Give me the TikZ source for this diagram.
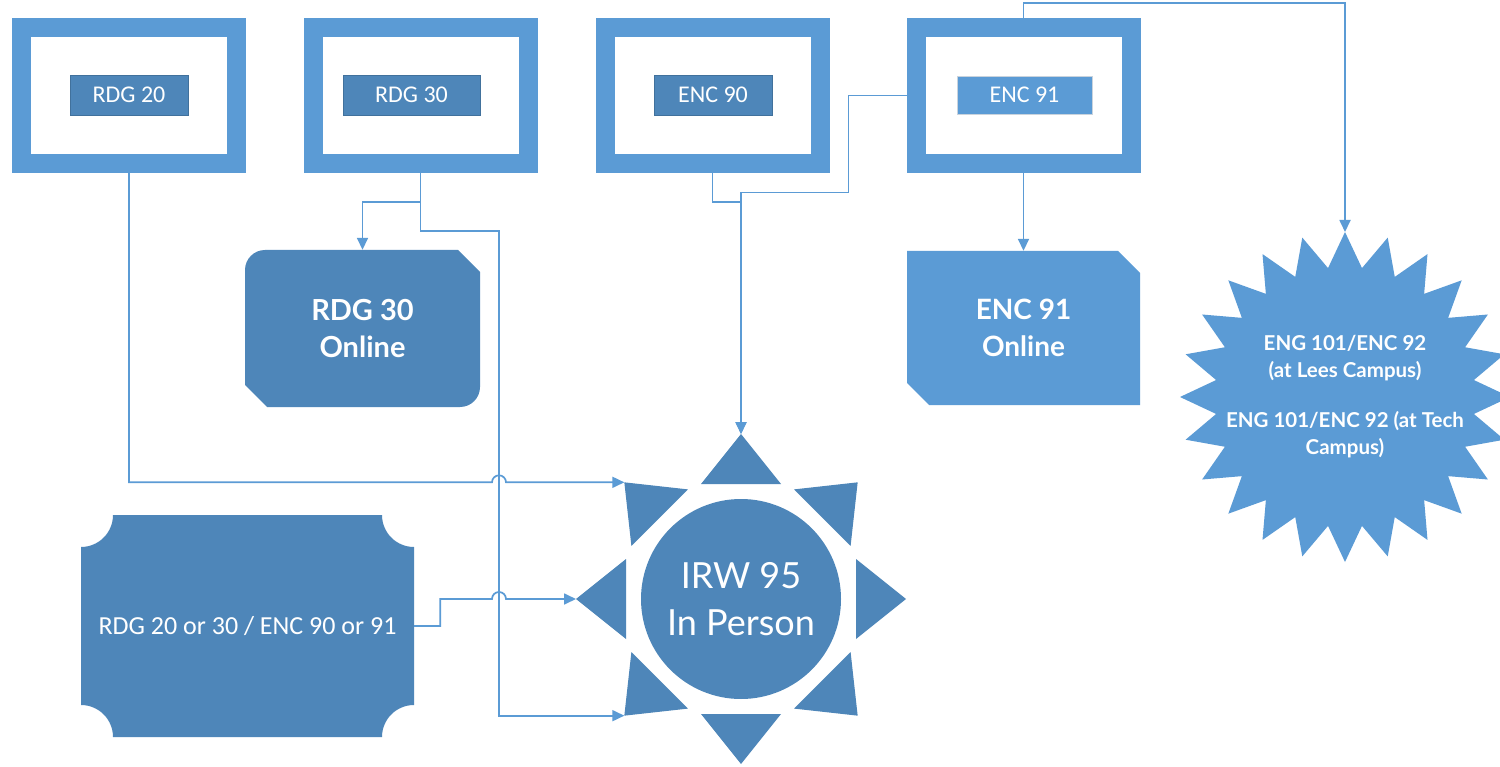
\documentclass[tikz,border=0pt]{standalone}
\usepackage{fontspec}
\setmainfont{Carlito}
\newfontfamily\twfont{Lato}
\usetikzlibrary{arrows.meta,calc}
\definecolor{lightb}{HTML}{5B9BD5}
\definecolor{darkb}{HTML}{4E86B9}
\definecolor{edgeb}{HTML}{41719C}
\definecolor{edgeg}{HTML}{C9D3DD}
\begin{document}
\begin{tikzpicture}[x=1pt,y=-1pt,
  frame/.style={draw=lightb, line width=19pt, fill=white, minimum width=215pt,
    minimum height=136pt, inner sep=0pt, outer sep=9.5pt},
  lab/.style={fill=darkb, draw=edgeb, line width=0.6pt, text=white, minimum width=118pt,
    minimum height=40pt, inner sep=0pt, font=\fontsize{24}{28}\selectfont},
  lablight/.style={lab, fill=lightb, draw=edgeg, minimum width=135pt, minimum height=38pt},
  bigtext/.style={text=white, align=center, inner sep=0pt},
  conn/.style={draw=lightb, line width=1.7pt},
  arr/.style={conn, -{Triangle[length=12pt,width=11pt]}}]
\useasboundingbox (0,0) rectangle (1500,767);
\fill[white] (0,0) rectangle (1500,767);
\clip (0,0) rectangle (1500,767);

% ---------- top frames ----------
\node[frame] (rdg20) at (129,95.5) {};
\node[frame] (rdg30) at (420.5,95.5) {};
\node[frame] (enc90) at (712.5,95.5) {};
\node[frame] (enc91) at (1023.5,95.5) {};
\node[lab] (rdg20l) at (129,95) {RDG 20};
\node[lab, minimum width=137pt] (rdg30l) at (411.5,95) {RDG 30};
\node[lab] (enc90l) at (713,95) {ENC 90};
\node[lablight] (enc91l) at (1024.5,95) {ENC 91};

% ---------- RDG 30 Online ----------
\fill[darkb] (245,270) -- (245,385) -- (267,407) -- (460,407)
  arc[start angle=90, end angle=0, radius=20] -- (480,272) -- (458,250) -- (265,250)
  arc[start angle=270, end angle=180, radius=20] -- cycle;
\node[bigtext, minimum width=235pt, minimum height=157pt,
  font=\twfont\bfseries\fontsize{29}{37}\selectfont] (rdg30on) at (362.5,328.5) {RDG 30\\Online};

% ---------- ENC 91 Online ----------
\fill[lightb] (907,251) -- (1118,251) -- (1140,273) -- (1140,405) -- (929,405) -- (907,383) -- cycle;
\node[bigtext, minimum width=233pt, minimum height=154pt,
  font=\twfont\bfseries\fontsize{28}{37}\selectfont] (enc91on) at (1023.5,328) {ENC 91\\Online};

% ---------- bottom-left plaque ----------
\fill[darkb] (113,515) -- (382,515) arc[start angle=180, end angle=90, radius=32]
  -- (414,705) arc[start angle=270, end angle=180, radius=32]
  -- (113,737) arc[start angle=0, end angle=-90, radius=32]
  -- (81,547) arc[start angle=90, end angle=0, radius=32] -- cycle;
\node[bigtext, minimum width=333pt, minimum height=222pt,
  font=\fontsize{26}{30}\selectfont] (plq) at (247.5,626) {RDG 20 or 30 / ENC 90 or 91};

% ---------- sun ----------
\coordinate (sunc) at (741,599);
\foreach \a in {0,45,...,315} {
  \fill[darkb] ($(sunc)+(\a:165)$) -- ($(sunc)+(\a:115)+(\a+90:40)$) -- ($(sunc)+(\a:115)+(\a-90:40)$) -- cycle;
}
\node[circle, fill=darkb, minimum size=200pt, inner sep=0pt, bigtext,
  font=\twfont\fontsize{36}{47}\selectfont] (irw) at (sunc) {IRW 95\\In Person};
\coordinate (irwN) at ($(sunc)+(270:165)$);
\coordinate (irwNW) at ($(sunc)+(225:165)$);
\coordinate (irwW) at ($(sunc)+(180:165)$);
\coordinate (irwSW) at ($(sunc)+(135:165)$);

% ---------- starburst ----------
\coordinate (engc) at (1345,397);
\fill[lightb] ($(engc)+(270:165)$)
  \foreach \a in {0,15,...,345} { -- ($(engc)+(277.5+\a:130)$) -- ($(engc)+(285+\a:165)$) } -- cycle;
\node[bigtext, font=\twfont\bfseries\fontsize{20.5}{27}\selectfont] (eng) at (engc)
  {ENG 101/ENC 92\\(at Lees Campus)\\[23pt]ENG 101/ENC 92 (at Tech\\Campus)};
\coordinate (engN) at ($(engc)+(270:165)$);

% ---------- connectors ----------
\coordinate (bendA) at (499,231);
% RDG 20 -> sun (with hop)
\draw[arr] (rdg20.south) |- ([xshift=-7pt]bendA |- irwNW)
  arc[start angle=180, end angle=360, radius=7] -- (irwNW);
% RDG 30 -> RDG 30 Online
\draw[arr] (rdg30.south) -- ++(0,29) -| (rdg30on.north);
% RDG 30 -> sun (lower left)
\draw[arr] (rdg30.south) |- (bendA) |- (irwSW);
% plaque -> sun (with hop)
\draw[arr] (plq.east) -- ++(26,0) |- ([xshift=-7pt]bendA |- irwW)
  arc[start angle=180, end angle=360, radius=7] -- (irwW);
% ENC 90 -> sun
\draw[arr] (enc90.south) -- ++(0,29) -| (irwN);
% ENC 91 -> sun
\draw[arr] (enc91.west) -- ++(-58,0) -- ++(0,97) -| (irwN);
% ENC 91 -> ENC 91 Online
\draw[arr] (enc91.south) -- (enc91on.north);
% ENC 91 -> starburst
\draw[arr] (enc91.north) -- ++(0,-15) -| (engN);
\end{tikzpicture}
\end{document}
